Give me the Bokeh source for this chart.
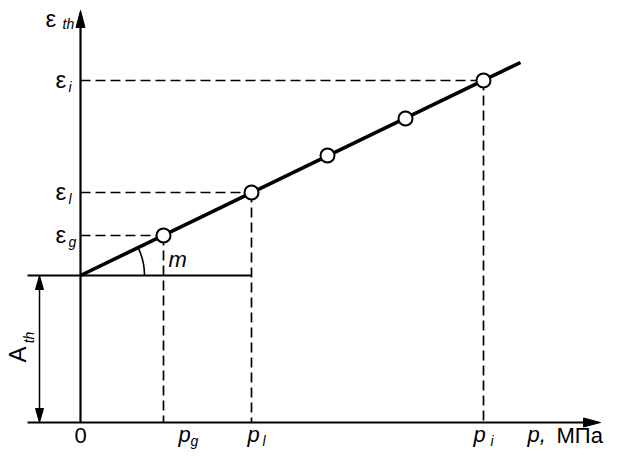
import math
from bokeh.plotting import figure
from bokeh.models import Range1d
from bokeh.core.properties import value
from bokeh.embed import file_html
from bokeh.resources import INLINE

# ---- data (schematic units: 1 unit ~ 1 px of the reference) ----
A_th = 147                                  # intercept of the line
p_points = [83, 171, 247, 325, 403]         # pressures of measured points
eps_points = [187, 230, 267, 304, 342]      # strains of measured points
line_p = [0, 440]
line_eps = [147, 360]
p_g, p_l, p_i = 83, 171, 403
eps_g, eps_l, eps_i = 187, 230, 342
x_axis_start, x_axis_end = -53, 520
y_axis_end = 412
A_arrow_x = -41

# label texts
x_tick_subs = ["g", "l", "i"]
x_tick_label_left = [98, 167, 393]
x_tick_sub_left = [110, 182, 410]
y_tick_subs = ["i", "l", "g"]
x_title = ("p,", "МПа")
y_title = ("ε", "th")

FONT = value("Liberation Sans")
BIG = "22px"
SUB = "14px"
EPS = "24px"

p = figure(width=606, height=451, output_backend="svg", toolbar_location=None,
           x_range=Range1d(-80, 526), y_range=Range1d(-29, 422),
           min_border=0, outline_line_color=None)
p.axis.visible = False
p.grid.visible = False
p.background_fill_color = "white"
p.border_fill_color = "white"

# dashed guides
dash = dict(line_color="black", line_width=1.7, line_dash="10 5")
for (px, ey) in [(p_g, eps_g), (p_l, eps_l), (p_i, eps_i)]:
    p.line([0, px], [ey, ey], **dash)
    p.line([px, px], [ey, 0], **dash)

# axes
p.line([x_axis_start, x_axis_end - 14], [0, 0], line_color="black", line_width=2.2)
p.line([0, 0], [0, y_axis_end - 14], line_color="black", line_width=2.2)
# horizontal line at A_th
p.line([x_axis_start, p_l], [A_th, A_th], line_color="black", line_width=2.2)

# arrow heads (narrow)
p.patch([x_axis_end, x_axis_end - 17, x_axis_end - 17], [0, 4.5, -4.5], color="black")
p.patch([0, -4.5, 4.5], [y_axis_end, y_axis_end - 17, y_axis_end - 17], color="black")

# A_th double arrow
p.line([A_arrow_x, A_arrow_x], [12, A_th - 12], line_color="black", line_width=1.5)
p.patch([A_arrow_x, A_arrow_x - 4, A_arrow_x + 4], [A_th, A_th - 14, A_th - 14], color="black")
p.patch([A_arrow_x, A_arrow_x - 4, A_arrow_x + 4], [0, 14, 14], color="black")

# angle arc
slope_angle = math.atan2(line_eps[1] - line_eps[0], line_p[1] - line_p[0])
p.arc(x=[0], y=[A_th], radius=64, start_angle=0, end_angle=slope_angle,
      line_color="black", line_width=1.6)

# main line
p.line(line_p, line_eps, line_color="black", line_width=3.6)
# points
p.scatter(p_points, eps_points, size=14, fill_color="white", line_color="black", line_width=2)

def txt(x, y, s, size=BIG, style="normal", align="left", baseline="middle", angle=0):
    p.text(x=[x], y=[y], text=[s], text_font=FONT, text_font_size=size,
           text_font_style=style, text_align=align, text_baseline=baseline,
           text_color="black", angle=angle)

# y labels
txt(-35, 404, y_title[0], size=EPS)
txt(-18, 399, y_title[1], size=SUB, style="italic")
for ey, sub in zip([eps_i, eps_l, eps_g], y_tick_subs):
    txt(-25, ey + 1, "ε", size=EPS)
    txt(-12, ey - 6, sub, size=SUB, style="italic")

# x labels (kept inside the drawing area)
txt(0, -13, "0", align="center")
for lx, sx, sub in zip(x_tick_label_left, x_tick_sub_left, x_tick_subs):
    txt(lx, -12, "p", style="italic")
    txt(sx, -18, sub, size=SUB, style="italic")
txt(447, -12, x_title[0], style="italic")
txt(476, -13, x_title[1])

# m
txt(88, 163, "m", style="italic")

# A_th rotated
txt(-63, 68, "A", size="24px", angle=math.pi / 2, align="center")
txt(-52, 85, "th", size=SUB, style="italic", angle=math.pi / 2, align="center")

open("out.html", "w").write(file_html(p, INLINE))
